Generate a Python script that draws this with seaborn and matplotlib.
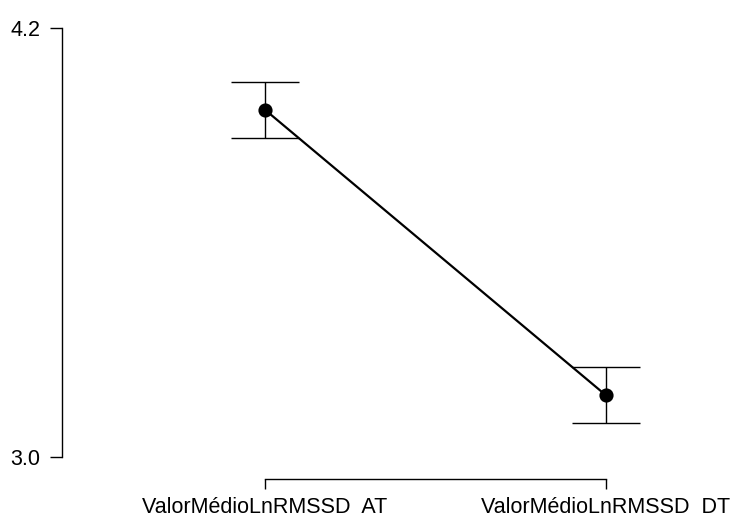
import matplotlib
matplotlib.use("Agg")
import matplotlib.pyplot as plt
import seaborn as sns
import pandas as pd
import numpy as np

categories = ["ValorMédioLnRMSSD  AT", "ValorMédioLnRMSSD  DT"]
means = [3.972, 3.173]
errors = [0.078, 0.078]
y_ticks = [3.0, 4.2]
y_tick_labels = ["3.0", "4.2"]

sns.set_style("white")
plt.rcParams['font.family'] = ['Liberation Sans', 'DejaVu Sans']

df = pd.DataFrame({"cond": categories, "value": means})

fig = plt.figure(figsize=(7.37, 5.18), dpi=100)
ax = fig.add_axes([62/737, (518-479)/518, (737-62)/737, (479-10)/518])

pos = np.arange(len(categories))
ax.errorbar(pos, means, yerr=errors, fmt="none", ecolor="black",
            elinewidth=1.0, capsize=24.5, capthick=1.0, zorder=2)
sns.pointplot(data=df, x="cond", y="value", color="black", errorbar=None,
              markers="o", markersize=9, linewidth=1.6, ax=ax, zorder=3)

ax.set_xlim(-0.595, 1.384)
ax.set_ylim(2.939, 4.251)
ax.set_yticks(y_ticks)
ax.set_yticklabels(y_tick_labels, fontsize=15.5)
ax.set_xticks(pos)
ax.set_xticklabels(categories, fontsize=15.5)
ax.set_xlabel("")
ax.set_ylabel("")

for s in ["top", "right"]:
    ax.spines[s].set_visible(False)
for s in ["left", "bottom"]:
    ax.spines[s].set_color("black")
    ax.spines[s].set_linewidth(1.0)
ax.spines["left"].set_bounds(3.0, 4.2)
ax.spines["bottom"].set_bounds(0, 1)
ax.tick_params(axis="both", which="major", width=1.0, color="black",
               direction="out", left=True, bottom=True, labelcolor="black")
ax.tick_params(axis="y", length=8.6, pad=7)
ax.tick_params(axis="x", length=7.2, pad=6)

fig.savefig("out.png", dpi=100)
